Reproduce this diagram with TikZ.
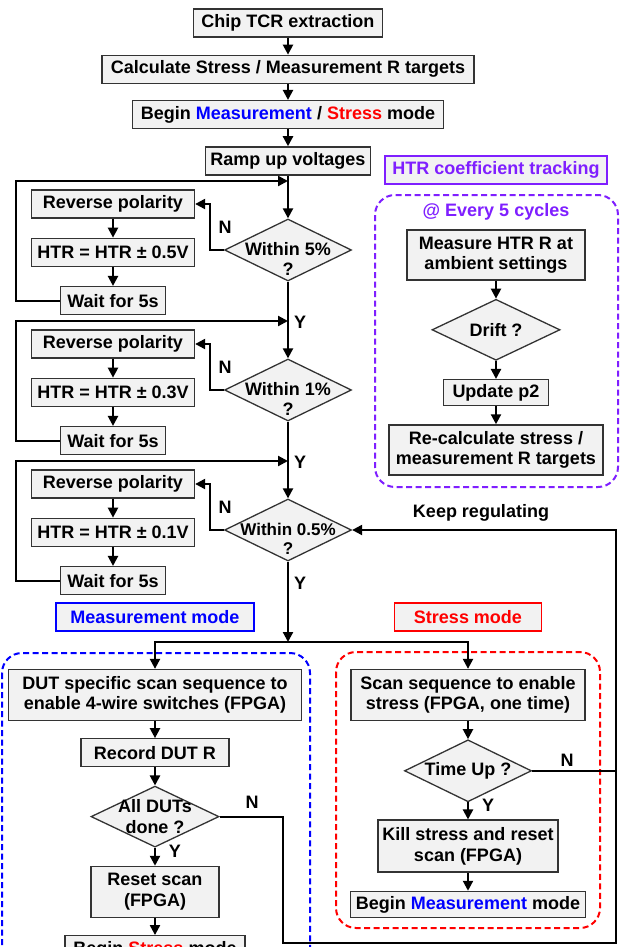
\documentclass[tikz,border=0pt]{standalone}
\usepackage{fontspec}
\setmainfont{Liberation Sans}
\usepackage{xcolor}
\usepackage{tikz}
\usetikzlibrary{arrows.meta, positioning, shapes.geometric}
\definecolor{boxgray}{HTML}{F2F2F2}
\definecolor{edgegray}{HTML}{333333}
\definecolor{mblue}{HTML}{0000FF}
\definecolor{sred}{HTML}{FF0000}
\definecolor{htrviolet}{HTML}{7F1FFF}

\begin{document}
\begin{tikzpicture}[
  x=1pt, y=-1pt,
  font=\fontsize{18}{20.5}\selectfont\bfseries,
  node distance=17pt,
  box/.style={draw=edgegray, line width=1.3pt, fill=boxgray, minimum height=28pt, inner xsep=4pt, inner ysep=2pt, align=center},
  tallbox/.style={box, minimum height=51pt},
  dia/.style={draw=edgegray, line width=1.3pt, fill=boxgray, diamond, minimum width=127pt, minimum height=62pt, inner sep=0pt},
  tag/.style={draw, line width=1.3pt, fill=boxgray, minimum height=28pt, minimum width=#1, inner sep=2pt},
  arr/.style={-{Triangle[length=10pt,width=10pt]}, line width=2.2pt},
  wire/.style={line width=2.2pt},
  yn/.style={inner sep=0pt},
  zone/.style={line width=2pt, dash pattern=on 6pt off 3.5pt, rounded corners=20pt}
]
  \useasboundingbox[fill=white] (0,0) rectangle (627,947);

  % main column
  \node[box, minimum width=189pt] (chip) at (288,23) {Chip TCR extraction};
  \node[box, minimum width=372pt, below=17pt of chip] (calc) {Calculate Stress / Measurement R targets};
  \node[box, minimum width=311pt, below=16pt of calc] (begin) {Begin {\color{mblue}Measurement} / {\color{sred}Stress} mode};
  \node[box, minimum width=165pt, below=17pt of begin] (ramp) {Ramp up voltages};

  \node[dia, label={[align=center, yshift=-9pt]center:Within 5\%\\?}] (d1) at (288,250) {};
  \node[dia, label={[align=center, yshift=-9pt]center:Within 1\%\\?}] (d2) at (288,390) {};
  \node[dia, label={[align=center, yshift=-9pt, font=\fontsize{17}{19}\selectfont\bfseries]center:Within 0.5\%\\?}] (d3) at (288,530) {};

  \coordinate (j1) at (288,181);
  \coordinate (j2) at (288,321);
  \coordinate (j3) at (288,461);
  \coordinate (br) at (288,642);
  \coordinate (lx1) at (16,181);
  \coordinate (lx2) at (16,321);
  \coordinate (lx3) at (16,461);

  % regulation loops
  \node[box, minimum width=163pt] (rp1) at (113,204) {Reverse polarity};
  \node[box, minimum width=163pt, below=19pt of rp1] (ht1) {HTR = HTR ± 0.5V};
  \node[box, minimum width=105pt, below=19pt of ht1] (w1) {Wait for 5s};
  \node[box, minimum width=163pt] (rp2) at (113,344) {Reverse polarity};
  \node[box, minimum width=163pt, below=19pt of rp2] (ht2) {HTR = HTR ± 0.3V};
  \node[box, minimum width=105pt, below=19pt of ht2] (w2) {Wait for 5s};
  \node[box, minimum width=163pt] (rp3) at (113,484) {Reverse polarity};
  \node[box, minimum width=163pt, below=19pt of rp3] (ht3) {HTR = HTR ± 0.1V};
  \node[box, minimum width=105pt, below=19pt of ht3] (w3) {Wait for 5s};

  \node[yn] (n1) at (225,227) {N};
  \node[yn] (n2) at (225,367) {N};
  \node[yn] (n3) at (225,507) {N};
  \node[yn] (y1) at (300,322) {Y};
  \node[yn] (y2) at (300,462) {Y};
  \node[yn] (y3) at (300,583) {Y};

  % HTR tracking
  \node[tag=222pt, draw=htrviolet, text=htrviolet] (htrt) at (496,170) {HTR coefficient tracking};
  \draw[zone, htrviolet] (375,195) rectangle (618,487);
  \node[text=htrviolet] (every) at (496,212) {@ Every 5 cycles};
  \node[box, minimum width=178pt, minimum height=50pt] (meas) at (496,255) {Measure HTR R at\\ambient settings};
  \node[dia, minimum width=128pt, minimum height=61pt, below=18pt of meas, label={center:Drift ?}] (drift) {};
  \node[box, minimum width=105pt, minimum height=26pt, below=18pt of drift] (upd) {Update p2};
  \node[box, minimum width=214pt, minimum height=50pt, below=18pt of upd] (recalc) {Re-calculate stress /\\measurement R targets};

  % modes
  \node[tag=198pt, draw=mblue, text=mblue] (mlab) at (155,617) {Measurement mode};
  \node[tag=147pt, draw=sred, text=sred] (slab) at (468,617) {Stress mode};
  \draw[zone, mblue] (2,653) rectangle (310,980);
  \draw[zone, sred] (336,652) rectangle (600,928);

  \node[tallbox, minimum width=293pt] (dut) at (155,695) {DUT specific scan sequence to\\enable 4-wire switches (FPGA)};
  \node[box, minimum width=148pt, below=17pt of dut] (rec) {Record DUT R};
  \node[dia, minimum width=128pt, minimum height=61pt, below=18pt of rec, label={[align=center]center:All DUTs\\done ?}] (ad) {};
  \node[tallbox, minimum width=128pt, below=18pt of ad] (reset) {Reset scan\\(FPGA)};
  \node[box, minimum width=180pt, below=17pt of reset] (bst) {Begin {\color{sred}Stress} mode};

  \node[tallbox, minimum width=234pt] (scan) at (468,695) {Scan sequence to enable\\stress (FPGA, one time)};
  \node[dia, below=18pt of scan, label={center:Time Up ?}] (tu) {};
  \node[tallbox, minimum width=180pt, minimum height=52pt, below=17pt of tu] (kill) {Kill stress and reset\\scan (FPGA)};
  \node[box, minimum width=235pt, minimum height=26pt, below=18pt of kill] (bm) {Begin {\color{mblue}Measurement} mode};

  \node[yn] (n4) at (252,802) {N};
  \node[yn] (y4) at (175,851) {Y};
  \node[yn] (n5) at (567,760) {N};
  \node[yn] (y5) at (488,805) {Y};
  \node (keep) at (481,513) {Keep regulating};

  \coordinate (ka) at (283,943);
  \coordinate (rx) at (616,943);

  % connectors
  \draw[arr] (chip) -- (calc);
  \draw[arr] (calc) -- (begin);
  \draw[arr] (begin) -- (ramp);
  \draw[arr] (ramp) -- (d1);
  \draw[arr] (d1) -- (d2);
  \draw[arr] (d2) -- (d3);
  \draw[arr] (d3) -- (br);

  \draw[arr] (rp1) -- (ht1);
  \draw[arr] (ht1) -- (w1);
  \draw[arr] (rp2) -- (ht2);
  \draw[arr] (ht2) -- (w2);
  \draw[arr] (rp3) -- (ht3);
  \draw[arr] (ht3) -- (w3);
  \draw[arr] (d1.west) -- ++(-14,0) |- (rp1.east);
  \draw[arr] (d2.west) -- ++(-14,0) |- (rp2.east);
  \draw[arr] (d3.west) -- ++(-14,0) |- (rp3.east);
  \draw[arr] (w1.west) -| (lx1) -- (j1);
  \draw[arr] (w2.west) -| (lx2) -- (j2);
  \draw[arr] (w3.west) -| (lx3) -- (j3);

  \draw[arr] (meas) -- (drift);
  \draw[arr] (drift) -- (upd);
  \draw[arr] (upd) -- (recalc);

  \draw[arr] (br) -| (dut);
  \draw[arr] (br) -| (scan);
  \draw[arr] (dut) -- (rec);
  \draw[arr] (rec) -- (ad);
  \draw[arr] (ad) -- (reset);
  \draw[arr] (reset) -- (bst);
  \draw[arr] (scan) -- (tu);
  \draw[arr] (tu) -- (kill);
  \draw[arr] (kill) -- (bm);

  \draw[arr] (tu.east) -- (tu.east -| rx) |- (d3.east);
  \draw[wire] (ad.east) -| (ka) -- (rx) -- (tu.east -| rx);
\end{tikzpicture}
\end{document}
